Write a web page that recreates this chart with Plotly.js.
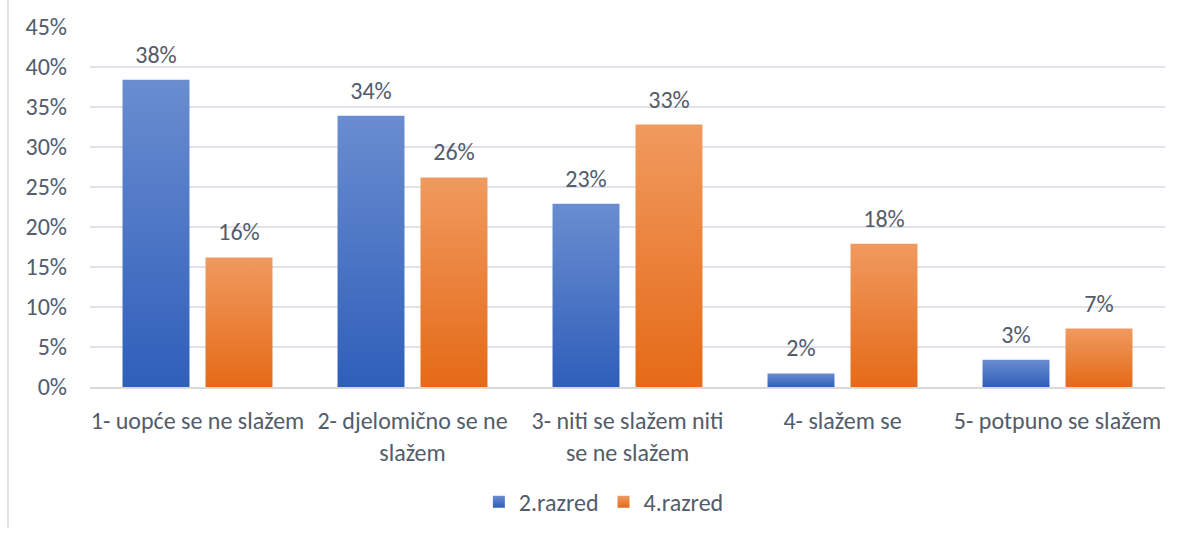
<!DOCTYPE html>
<html>
<head>
<meta charset="utf-8">
<script src="https://cdn.plot.ly/plotly-3.0.1.min.js"></script>
<style>
html,body{margin:0;padding:0;background:#fff;}
#chart{width:1183px;height:537px;}
</style>
</head>
<body>
<div id="chart"></div>
<script>
const categories = ["1- uopće se ne slažem", "2- djelomično se ne<br>slažem", "3- niti se slažem niti<br>se ne slažem", "4- slažem se", "5- potpuno se slažem"];
const series1Name = "2.razred";
const series2Name = "4.razred";
const series1 = [0.384, 0.339, 0.229, 0.017, 0.034];
const series2 = [0.162, 0.262, 0.328, 0.179, 0.073];
const yTicks = [0, 0.05, 0.10, 0.15, 0.20, 0.25, 0.30, 0.35, 0.40, 0.45];

const fontFam = "Carlito, Calibri, 'Open Sans', 'Liberation Sans', sans-serif";
const textCol = "#535c6b";
const fs = 24;

const traces = [
  {type:"bar", name:series1Name, x:categories, y:series1,
   marker:{color:"#4a74c9"}, texttemplate:"%{y:.0%}", textposition:"outside",
   textfont:{size:fs, color:textCol, family:fontFam}, cliponaxis:false, hoverinfo:"none"},
  {type:"bar", name:series2Name, x:categories, y:series2,
   marker:{color:"#ee7d31"}, texttemplate:"%{y:.0%}", textposition:"outside",
   textfont:{size:fs, color:textCol, family:fontFam}, cliponaxis:false, hoverinfo:"none"}
];

const layout = {
  width:1183, height:537,
  margin:{l:90, r:18, t:27, b:143},
  paper_bgcolor:"#fff", plot_bgcolor:"#fff",
  font:{family:fontFam, size:fs, color:textCol},
  barmode:"group", bargap:0.228, bargroupgap:0.193,
  xaxis:{tickfont:{size:fs, color:textCol}, showgrid:false, showline:true, linecolor:"#d9d9d9", linewidth:1.5, ticks:"", ticklabelstandoff:12, automargin:false},
  yaxis:{range:[0,0.45], tickvals:yTicks, tickformat:".0%", tickfont:{size:fs, color:textCol},
         showgrid:true, gridcolor:"#dfe2ea", gridwidth:1.5, zeroline:false, ticks:"", ticklabelstandoff:22, automargin:false},
  legend:{orientation:"h", x:0.478, xanchor:"center", y:-0.32, yanchor:"middle", font:{size:fs, color:textCol}, traceorder:"normal"},
  shapes:[{type:"line", xref:"paper", yref:"paper", x0:-0.0763, x1:-0.0763, y0:-0.39, y1:1.08, line:{color:"#d9d9d9", width:1.5}}],
  showlegend:true
};

Plotly.newPlot("chart", traces, layout, {staticPlot:true, displayModeBar:false}).then(function(gd){
  const svg = gd.querySelector("svg.main-svg");
  const ns = "http://www.w3.org/2000/svg";
  let defs = svg.querySelector("defs");
  function grad(id, top, bottom){
    const g = document.createElementNS(ns, "linearGradient");
    g.setAttribute("id", id); g.setAttribute("x1","0"); g.setAttribute("y1","0"); g.setAttribute("x2","0"); g.setAttribute("y2","1");
    const s1 = document.createElementNS(ns,"stop"); s1.setAttribute("offset","0"); s1.setAttribute("stop-color",top);
    const s2 = document.createElementNS(ns,"stop"); s2.setAttribute("offset","1"); s2.setAttribute("stop-color",bottom);
    g.appendChild(s1); g.appendChild(s2); defs.appendChild(g);
  }
  grad("gblue", "#6a8dd0", "#2f5fba");
  grad("gorange", "#f09a5f", "#e56a17");
  const barTraces = gd.querySelectorAll(".barlayer .trace");
  const ids = ["gblue","gorange"];
  barTraces.forEach(function(t,i){
    t.querySelectorAll("path").forEach(function(p){ p.style.fill = "url(#"+ids[i]+")"; });
    t.querySelectorAll("text").forEach(function(tx){
      tx.setAttribute("transform", "translate(0,-8) " + (tx.getAttribute("transform") || ""));
    });
  });
  const legPts = gd.querySelectorAll(".legend .traces .legendpoints path");
  legPts.forEach(function(p,i){ p.style.fill = "url(#"+ids[i]+")"; });
});
</script>
</body>
</html>
